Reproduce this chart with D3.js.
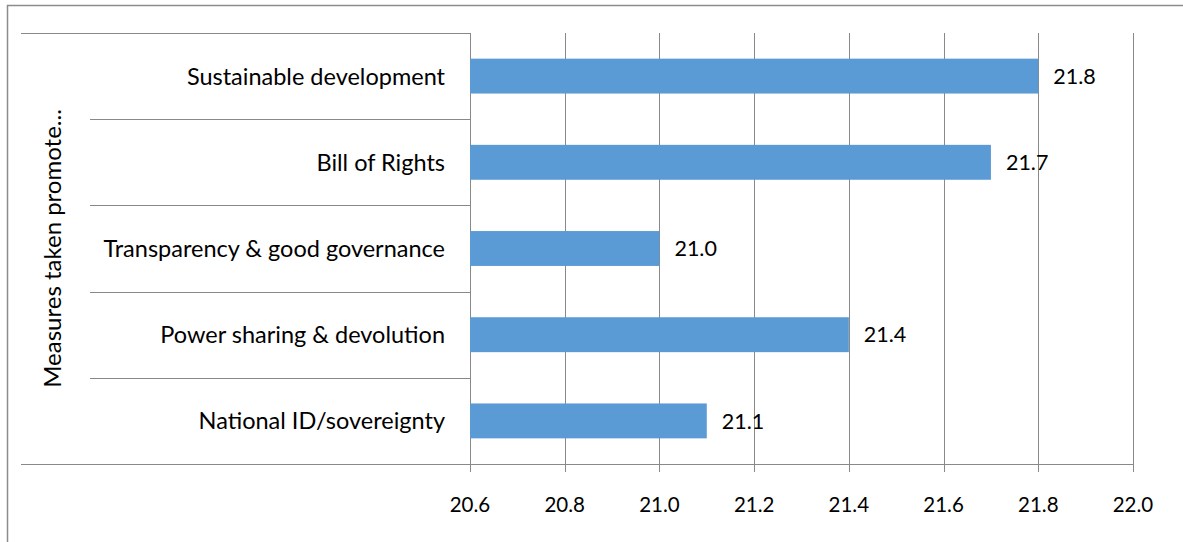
<!DOCTYPE html>
<html>
<head>
<meta charset="utf-8">
<script src="https://cdn.jsdelivr.net/npm/d3@7"></script>
<style>
  body { margin: 0; background: #fff; }
  text { font-family: Lato, "Open Sans", sans-serif; fill: #000; }
</style>
</head>
<body>
<div id="chart"></div>
<script>
// data
let categories = ["Sustainable development", "Bill of Rights", "Transparency & good governance",
                  "Power sharing & devolution", "National ID/sovereignty"];
let values = [21.8, 21.7, 21.0, 21.4, 21.1];
let tickValues = [20.6, 20.8, 21.0, 21.2, 21.4, 21.6, 21.8, 22.0];
let axisTitle = "Measures taken promote...";

let W = 1183, H = 542;
let plot = { left: 470, right: 1133, top: 33, bottom: 464 };
let lineColor = "#898989";

let svg = d3.select("#chart").append("svg")
    .attr("width", W)
    .attr("height", H);

// outer chart border (runs off the page at right/bottom)
svg.append("rect")
    .attr("x", 7.5).attr("y", 5.5)
    .attr("width", W + 20).attr("height", H + 20)
    .attr("fill", "none")
    .attr("stroke", "#8c8c8c")
    .attr("stroke-width", 1.5);

let x = d3.scaleLinear()
    .domain([20.6, 22.0])
    .range([plot.left, plot.right]);

let y = d3.scaleBand()
    .domain(categories)
    .range([plot.top, plot.bottom])
    .paddingInner(0.595)
    .paddingOuter(0.2975);

let grid = svg.append("g").attr("class", "grid");
// vertical gridlines
grid.selectAll("line.v")
    .data(tickValues)
    .enter().append("line")
    .attr("class", "v")
    .attr("x1", d => Math.round(x(d)) + 0.5)
    .attr("x2", d => Math.round(x(d)) + 0.5)
    .attr("y1", plot.top)
    .attr("y2", plot.bottom + 8)
    .attr("stroke", lineColor);

// category separators on the left (excel style multi-level axis)
let step = y.step();
let seps = d3.range(1, categories.length).map(i => plot.top + i * step);
grid.selectAll("line.sep")
    .data(seps)
    .enter().append("line")
    .attr("x1", 90).attr("x2", plot.left)
    .attr("y1", d => Math.round(d) + 0.5)
    .attr("y2", d => Math.round(d) + 0.5)
    .attr("stroke", lineColor);
// top and bottom lines
grid.append("line")
    .attr("x1", 21).attr("x2", plot.left)
    .attr("y1", plot.top + 0.5).attr("y2", plot.top + 0.5)
    .attr("stroke", lineColor);
grid.append("line")
    .attr("x1", 21).attr("x2", plot.right)
    .attr("y1", plot.bottom + 0.5).attr("y2", plot.bottom + 0.5)
    .attr("stroke", lineColor);

// bars
svg.append("g").selectAll("rect")
    .data(values)
    .enter().append("rect")
    .attr("x", x(20.6))
    .attr("y", (d, i) => y(categories[i]))
    .attr("width", d => x(d) - x(20.6))
    .attr("height", y.bandwidth())
    .attr("fill", "#5b9bd5");

// value labels
svg.append("g").selectAll("text")
    .data(values)
    .enter().append("text")
    .attr("x", d => x(d) + 15)
    .attr("y", (d, i) => y(categories[i]) + y.bandwidth() / 2)
    .attr("dy", "0.36em")
    .style("font-size", "21.5px")
    .text(d => d3.format(".1f")(d));

// category labels
svg.append("g").selectAll("text")
    .data(categories)
    .enter().append("text")
    .attr("x", plot.left - 25)
    .attr("y", d => y(d) + y.bandwidth() / 2)
    .attr("dy", "0.36em")
    .attr("text-anchor", "end")
    .style("font-size", "23.5px")
    .text(d => d);

// x tick labels
svg.append("g").selectAll("text")
    .data(tickValues)
    .enter().append("text")
    .attr("x", d => x(d))
    .attr("y", 505)
    .attr("dy", "0.36em")
    .attr("text-anchor", "middle")
    .style("font-size", "20.5px")
    .text(d => d3.format(".1f")(d));

// axis title
svg.append("text")
    .attr("transform", "translate(52," + (plot.top + plot.bottom) / 2 + ") rotate(-90)")
    .attr("dy", "0.36em")
    .attr("text-anchor", "middle")
    .style("font-size", "24px")
    .text(axisTitle);
</script>
</body>
</html>
